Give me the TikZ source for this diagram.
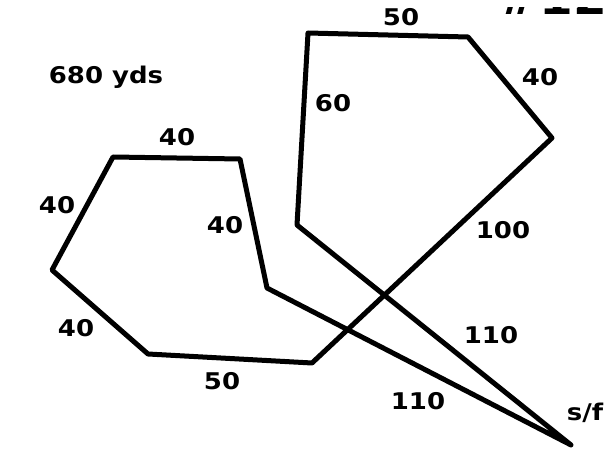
\documentclass[tikz,border=0pt]{standalone}
\usepackage{fontspec}
\setmainfont{DejaVu Sans}[FakeStretch=1.13]
\begin{document}
\begin{tikzpicture}[x=1pt,y=-1pt,
  lbl/.style={font=\fontsize{23}{25}\selectfont\bfseries, inner sep=0pt},
  course/.style={line width=5pt, line join=round, line cap=round}]
\useasboundingbox (0,0) rectangle (611,454);
\fill[white] (0,0) rectangle (611,454);
% corners
\coordinate (sf) at (571,445);
\coordinate (r1) at (297,225);
\coordinate (r2) at (308,33);
\coordinate (r3) at (468,37);
\coordinate (r4) at (552,138);
\coordinate (l1) at (312,363);
\coordinate (l2) at (148,354);
\coordinate (l3) at (52,270);
\coordinate (l4) at (113,157);
\coordinate (l5) at (240,159);
\coordinate (l6) at (267,288);
\draw[course] (sf) -- (r1) -- (r2) -- (r3) -- (r4) -- (l1) -- (l2) -- (l3) -- (l4) -- (l5) -- (l6) -- cycle;
% labels
\node[lbl] (t680) at (106,77) {680 yds};
\node[lbl] (a) at (177,137) {40};
\node[lbl] (b) at (57,205) {40};
\node[lbl] (c) at (225,225) {40};
\node[lbl] (d) at (76,328) {40};
\node[lbl] (e) at (222,381) {50};
\node[lbl] (f) at (333,103) {60};
\node[lbl] (g) at (401,17) {50};
\node[lbl] (h) at (540,77) {40};
\node[lbl] (i) at (503,230) {100};
\node[lbl] (j) at (491,335) {110};
\node[lbl] (k) at (418,401) {110};
\node[lbl] (m) at (585,413) {s/f};
\begin{scope}
\clip (500,8) rectangle (611,16);
\node[font=\fontsize{43}{46}\selectfont\bfseries, inner sep=0pt, anchor=base east] (num) at (607,15) {\#12};
\end{scope}
\end{tikzpicture}
\end{document}
